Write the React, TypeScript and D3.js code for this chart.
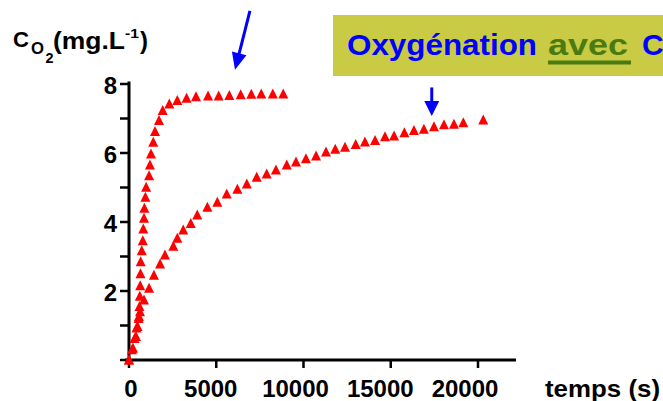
import React from "react";
import * as d3 from "d3";

const xTicks = [0, 5000, 10000, 15000, 20000];
const yTicks = [0, 1, 2, 3, 4, 5, 6, 7, 8];
const yLabels = [2, 4, 6, 8];

const fastTime = [0, 230, 400, 490, 570, 600, 620, 640, 660, 670, 730, 790, 820, 860, 880, 940, 980, 1150, 1200, 1260, 1390, 1490, 1720, 1930, 2310, 2770, 3300, 3840, 4530, 5140, 5750, 6400, 7010, 7580, 8240, 8840];
const fastValue = [0, 0.34, 0.68, 0.97, 1.26, 1.55, 1.85, 2.15, 2.5, 2.85, 3.17, 3.46, 3.8, 4.11, 4.4, 4.72, 5.01, 5.34, 5.65, 5.97, 6.31, 6.62, 6.94, 7.23, 7.42, 7.52, 7.59, 7.63, 7.65, 7.65, 7.67, 7.69, 7.7, 7.71, 7.71, 7.71];

const slowTime = [0, 170, 320, 430, 550, 630, 860, 1150, 1430, 1780, 2060, 2540, 2770, 3110, 3540, 3910, 4490, 5060, 5600, 6210, 6750, 7320, 7890, 8420, 9040, 9570, 10140, 10720, 11290, 11820, 12380, 12990, 13520, 14100, 14670, 15190, 15780, 16330, 16900, 17480, 18050, 18620, 19160, 20300];
const slowValue = [0, 0.3, 0.62, 0.93, 1.2, 1.4, 1.74, 2.08, 2.46, 2.78, 3.04, 3.3, 3.53, 3.77, 3.96, 4.2, 4.43, 4.57, 4.81, 4.95, 5.1, 5.3, 5.39, 5.51, 5.65, 5.74, 5.83, 5.91, 6.03, 6.11, 6.17, 6.25, 6.32, 6.36, 6.47, 6.49, 6.59, 6.65, 6.69, 6.76, 6.82, 6.83, 6.88, 6.96];

// annotation arrows in data coordinates: [tailT, tailV, tipT, tipV]
const arrowBig = [6930, 10.12, 6075, 8.41];
const arrowSmall = [17350, 7.9, 17350, 7.07];

const W = 663;
const H = 401;
const FONT = "'Liberation Sans', Arial, Helvetica, sans-serif";

function Arrow({ a, x, y, head = 17, half = 7.5 }: any) {
  const x1 = x(a[0]), y1 = y(a[1]), x2 = x(a[2]), y2 = y(a[3]);
  const dx = x2 - x1, dy = y2 - y1;
  const len = Math.sqrt(dx * dx + dy * dy);
  const ux = dx / len, uy = dy / len;
  const bx = x2 - ux * head, by = y2 - uy * head;
  const px = -uy, py = ux;
  const p = d3.path();
  p.moveTo(x2, y2);
  p.lineTo(bx + px * half, by + py * half);
  p.lineTo(bx - px * half, by - py * half);
  p.closePath();
  return (
    <g>
      <line x1={x1} y1={y1} x2={bx + ux * 2} y2={by + uy * 2} stroke="#0000FF" strokeWidth={3} />
      <path d={p.toString()} fill="#0000FF" />
    </g>
  );
}

function tri(cx: number, cy: number) {
  const p = d3.path();
  p.moveTo(cx, cy - 5.5);
  p.lineTo(cx + 5, cy + 4.5);
  p.lineTo(cx - 5, cy + 4.5);
  p.closePath();
  return p.toString();
}

export default function App() {
  const x = d3.scaleLinear().domain([0, 20000]).range([129, 478]);
  const y = d3.scaleLinear().domain([0, 8]).range([360, 84]);
  const xAxisStart = x(-220);
  const xAxisEnd = x(22180);
  const yAxisTop = y(8.07);

  const fast = fastTime.map((t, i) => [t, fastValue[i]]);
  const slow = slowTime.map((t, i) => [t, slowValue[i]]);
  const adj = "spacingAndGlyphs";

  return (
    <svg width={W} height={H} style={{ position: "absolute", left: 0, top: 0, background: "#fff" }} fontFamily={FONT}>
      {/* title box */}
      <rect x={333} y={15} width={340} height={61} fill="#C8CB43" />
      <text x={347} y={55} fontSize={30} fontWeight="bold" fill="#0000FF" textLength={190} lengthAdjust={adj}>
        Oxygénation
      </text>
      <text x={548} y={55} fontSize={30} fontWeight="bold" fill="#4A7A12" textLength={80} lengthAdjust={adj}>
        avec
      </text>
      <rect x={548} y={60.5} width={83} height={4} fill="#4A7A12" />
      <text x={642} y={55} fontSize={30} fontWeight="bold" fill="#0000FF">
        C
      </text>

      {/* y label */}
      <text x={13} y={47} fontSize={22} fontWeight="bold" fill="#000" textLength={16} lengthAdjust={adj}>C</text>
      <text x={31} y={53.5} fontSize={16} fontWeight="bold" fill="#000" textLength={13} lengthAdjust={adj}>O</text>
      <text x={45.5} y={63} fontSize={14} fontWeight="bold" fill="#000" textLength={8} lengthAdjust={adj}>2</text>
      <text x={53} y={49} fontSize={23} fontWeight="bold" fill="#000" textLength={72} lengthAdjust={adj}>(mg.L</text>
      <text x={125} y={38} fontSize={13} fontWeight="bold" fill="#000" textLength={14} lengthAdjust={adj}>-1</text>
      <text x={140} y={49} fontSize={23} fontWeight="bold" fill="#000" textLength={8} lengthAdjust={adj}>)</text>

      {/* axes */}
      <line x1={xAxisStart} x2={xAxisEnd} y1={y(0)} y2={y(0)} stroke="#000" strokeWidth={3} />
      <line x1={x(0)} x2={x(0)} y1={y(0) + 1.5} y2={yAxisTop} stroke="#000" strokeWidth={3} />
      {xTicks.map((t) => (
        <g key={"xt" + t}>
          <line x1={x(t)} x2={x(t)} y1={y(0)} y2={y(0) + 8} stroke="#000" strokeWidth={2.5} />
          <text x={x(t) - (t > 0 ? 3 + t / 2000 : -2)} y={397} fontSize={24} fontWeight="bold" textAnchor="middle" fill="#000">
            {d3.format("d")(t)}
          </text>
        </g>
      ))}
      <text x={545} y={397} fontSize={24} fontWeight="bold" fill="#000" textLength={115} lengthAdjust={adj}>temps (s)</text>
      {yTicks.map((v) => (
        <line key={"yt" + v} x1={x(0) - 9} x2={x(0)} y1={y(v)} y2={y(v)} stroke="#000" strokeWidth={2.5} />
      ))}
      {yLabels.map((v) => (
        <text key={"yl" + v} x={117} y={y(v) + 10} fontSize={24} fontWeight="bold" textAnchor="end" fill="#000">
          {v}
        </text>
      ))}

      {/* data */}
      {slow.map((d, i) => (
        <path key={"s" + i} d={tri(x(d[0]), y(d[1]))} fill="#FF0000" />
      ))}
      {fast.map((d, i) => (
        <path key={"f" + i} d={tri(x(d[0]), y(d[1]))} fill="#FF0000" />
      ))}

      <Arrow a={arrowBig} x={x} y={y} head={17} half={7.5} />
      <Arrow a={arrowSmall} x={x} y={y} head={15} half={7.5} />
    </svg>
  );
}
